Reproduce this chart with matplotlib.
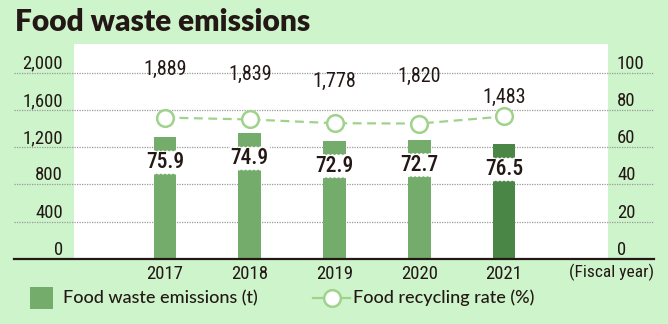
import matplotlib
matplotlib.use('Agg')
import matplotlib.pyplot as plt
from matplotlib import font_manager as fm
from matplotlib.patches import Rectangle
from matplotlib.lines import Line2D

# ---- data ----
years = ['2017', '2018', '2019', '2020', '2021']
emission_labels = [1889, 1839, 1778, 1820, 1483]      # stated values (t)
bar_heights = [1306, 1349, 1267, 1278, 1231]          # bar heights as drawn in the picture
recycling_rate = [75.9, 74.9, 72.9, 72.7, 76.5]       # %
left_ticks = [0, 400, 800, 1200, 1600, 2000]
right_ticks = [0, 20, 40, 60, 80, 100]


def pick(names):
    for n in names:
        try:
            fm.findfont(fm.FontProperties(family=n), fallback_to_default=False)
            return n
        except Exception:
            pass
    return 'DejaVu Sans'


num_font = pick(['Roboto Condensed', 'Liberation Sans Narrow', 'Roboto', 'DejaVu Sans'])
txt_font = pick(['Lato', 'Open Sans', 'DejaVu Sans'])
condensed = num_font in ('Roboto Condensed', 'Liberation Sans Narrow')
NW = 'normal'

BG = '#cef4cb'
BAR = '#74ad6b'
BAR_DARK = '#4a8645'
LINE = '#9fd38c'
INK = '#231815'

W, H = 668, 324
fig = plt.figure(figsize=(W / 100, H / 100), dpi=100, facecolor=BG)


def fx(px):
    return px / W


def fy(py):
    return 1 - py / H


ax = fig.add_axes([fx(14), fy(259), (654 - 14) / W, (259 - 44) / H])
ax.set_facecolor(BG)
ytop = 2000 * (259 - 44) / (259 - 72.7)
ax.set_ylim(0, ytop)
xs = list(range(len(years)))
step = 84.75
ax.set_xlim((14 - 165) / step, (654 - 165) / step)

# white plotting region
ax.axvspan((74 - 165) / step, (608 - 165) / step, color='white', zorder=0, lw=0)

# grid
ax.set_yticks(left_ticks)
ax.tick_params(axis='y', length=0, labelleft=False)
ax.grid(axis='y', color='#9a9a9a', ls=(0, (1, 1)), lw=0.9, zorder=0.5)
ax.set_axisbelow(True)
for s in ['top', 'left', 'right']:
    ax.spines[s].set_visible(False)
ax.spines['bottom'].set_color(INK)
ax.spines['bottom'].set_linewidth(1.6)
ax.spines['bottom'].set_zorder(5)

# bars
colors = [BAR] * (len(years) - 1) + [BAR_DARK]
ax.bar(xs, bar_heights, width=22.7 / step, color=colors, zorder=2)

tick_fs = 13.5 if condensed else 12.5
# tick labels (left / right)
for t in left_ticks:
    ax.text((63 - 165) / step, t, f'{t:,}', ha='right', va='bottom',
            fontsize=tick_fs, family=num_font, weight=NW, color=INK)
for i, t in enumerate(right_ticks):
    ax.text((617 - 165) / step, left_ticks[i], f'{t}', ha='left', va='bottom',
            fontsize=tick_fs, family=num_font, weight=NW, color=INK)

# x tick labels
ax.set_xticks(xs, years)
ax.tick_params(axis='x', length=0, pad=4)
for lab in ax.get_xticklabels():
    lab.set_fontsize(tick_fs)
    lab.set_family(num_font)
    lab.set_weight(NW)
    lab.set_color(INK)
fig.text(fx(654), fy(272), '(Fiscal year)', ha='right', va='center',
         fontsize=tick_fs - 1, family=num_font, weight=NW, color=INK)

# emission value labels
for i, (v, r) in enumerate(zip(emission_labels, recycling_rate)):
    y = max(v * 1.075, r * 20 + 200)
    ax.text(i, y, f'{v:,}', ha='center', va='center',
            fontsize=14.5 if condensed else 13.5,
            family=num_font, weight=NW, color=INK, zorder=6)

# recycling rate line (right axis)
ax2 = ax.twinx()
ax2.set_ylim(0, ytop / 20)
ax2.set_yticks([])
for s in ax2.spines.values():
    s.set_visible(False)
ax2.plot(xs, recycling_rate, color=LINE, lw=1.6, ls=(0, (4, 2.5)),
         marker='o', ms=12, mfc='white', mec=LINE, mew=1.8, zorder=4)

for i, (h, r) in enumerate(zip(bar_heights, recycling_rate)):
    ax2.text(i, (h - 270) / 20, f'{r}', ha='center', va='center',
             fontsize=15.5 if condensed else 14.5, family=num_font,
             weight='medium', color=INK, zorder=7,
             bbox=dict(boxstyle='roundtooth,pad=0.08,tooth_size=0.1',
                       fc='white', ec='none'))

# title
fig.text(fx(15), fy(31), 'Food waste emissions', ha='left', va='baseline',
         fontsize=21.5, fontweight='heavy', family=txt_font, color=INK)

# legend (manual)
fig.patches.append(Rectangle((fx(30), fy(309)), 23 / W, 22 / H,
                             transform=fig.transFigure, facecolor=BAR,
                             edgecolor='none'))
fig.text(fx(63), fy(298), 'Food waste emissions (t)', ha='left', va='center',
         fontsize=13, family=txt_font, weight='medium', color=INK)
fig.add_artist(Line2D([fx(313), fx(350)], [fy(298), fy(298)],
                      transform=fig.transFigure, color=LINE, lw=1.6))
fig.add_artist(Line2D([fx(332)], [fy(298)], transform=fig.transFigure,
                      marker='o', ms=12, mfc='white', mec=LINE, mew=1.8,
                      ls='none'))
fig.text(fx(353), fy(298), 'Food recycling rate (%)', ha='left', va='center',
         fontsize=13, family=txt_font, weight='medium', color=INK)

fig.savefig('out.png', dpi=100, facecolor=BG)
